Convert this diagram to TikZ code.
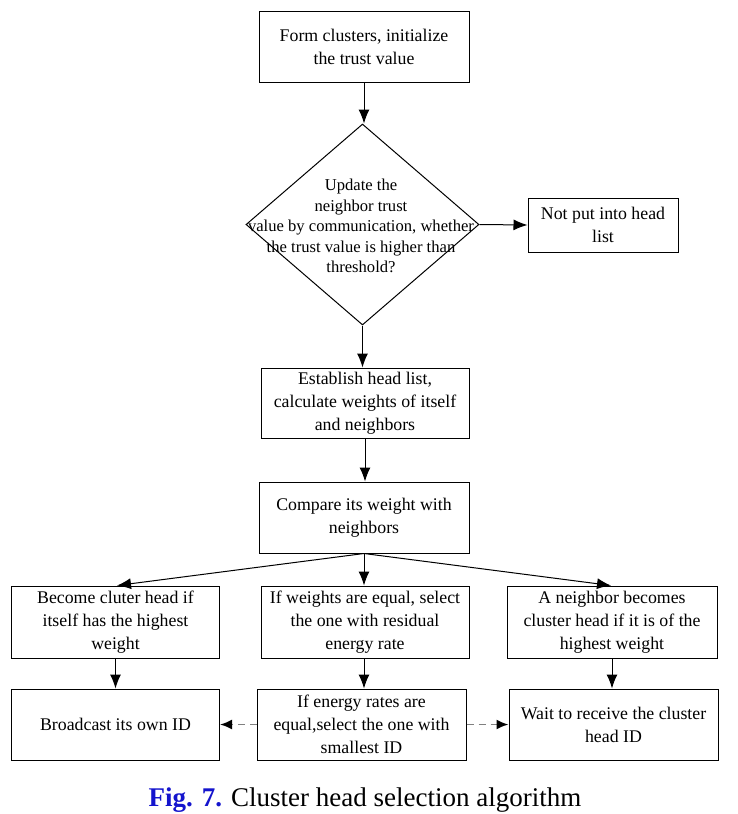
\documentclass[tikz,border=0pt]{standalone}
\usepackage{fontspec}
\setmainfont{Liberation Serif}
\usetikzlibrary{arrows.meta,shapes.geometric}
\definecolor{figblue}{RGB}{20,20,205}
\begin{document}
\begin{tikzpicture}[x=1pt,y=-1pt,
  box/.style={draw,line width=1pt,inner sep=2pt,align=center,
    font=\fontsize{17.8}{23}\selectfont},
  arr/.style={line width=1pt,-{Latex[length=14pt,width=11pt]}},
  darr/.style={line width=1.8pt,draw=gray,dash pattern=on 7pt off 5pt,
    -{Latex[length=12pt,width=10pt,color=black]}}]
\useasboundingbox (0,0) rectangle (738,814);
\node[box,minimum width=210pt,minimum height=71pt] (b1) at (364,46.5)
  {Form clusters, initialize\\the trust value};
\node[draw,line width=1pt,shape=diamond,inner sep=0pt,
  minimum width=233pt,minimum height=201pt] (dm) at (362.5,224.5) {};
\node[align=center,font=\fontsize{16.6}{20.5}\selectfont] (dt) at (361,226)
  {Update the\\neighbor trust\\value by communication, whether\\the trust value is higher than\\threshold?};
\node[box,minimum width=150pt,minimum height=54pt] (np) at (603,225)
  {Not put into head\\list};
\node[box,minimum width=208pt,minimum height=70pt] (b3) at (365,403)
  {Establish head list,\\calculate weights of itself\\and neighbors};
\node[box,minimum width=210pt,minimum height=71pt] (b4) at (364,517.5)
  {Compare its weight with\\neighbors};
\node[box,minimum width=208pt,minimum height=72pt] (rl) at (115.5,622)
  {Become cluter head if\\itself has the highest\\weight};
\node[box,minimum width=208pt,minimum height=72pt] (rm) at (365,622)
  {If weights are equal, select\\the one with residual\\energy rate};
\node[box,minimum width=210pt,minimum height=72pt] (rr) at (612,622)
  {A neighbor becomes\\cluster head if it is of the\\highest weight};
\node[box,minimum width=208pt,minimum height=71pt] (ql) at (115.5,724.5)
  {Broadcast its own ID};
\node[box,minimum width=209pt,minimum height=71pt] (qm) at (361.5,724.5)
  {If energy rates are\\equal,select the one with\\smallest ID};
\node[box,minimum width=209pt,minimum height=71pt] (qr) at (613.5,724.5)
  {Wait to receive the cluster\\head ID};
\node[anchor=base,font=\fontsize{27}{32}\selectfont] (cap) at (365,806)
  {\textcolor{figblue}{\textbf{Fig. 7.}} Cluster head selection algorithm};
\draw[arr] (b1.south) -- (b1.south |- dm.north);
\draw[arr] (dm.east) -- (np.west);
\draw[arr] (dm.south) -- (dm.south |- b3.north);
\draw[arr] (b3.south) -- (b3.south |- b4.north);
\draw[arr] (b4.south) -- ([xshift=1.5pt]rl.north);
\draw[arr] (b4.south) -- (b4.south |- rm.north);
\draw[arr] (b4.south) -- ([xshift=-1pt]rr.north);
\draw[arr] (rl.south) -- (rl.south |- ql.north);
\draw[arr] (b4.south |- rm.south) -- (b4.south |- qm.north);
\draw[arr] (rr.south) -- (rr.south |- qr.north);
\draw[darr] (qm.west) -- (ql.east);
\draw[darr] (qm.east) -- (qr.west);
\end{tikzpicture}
\end{document}
